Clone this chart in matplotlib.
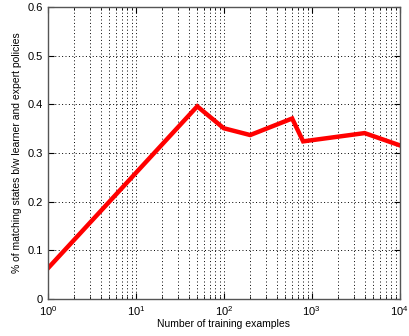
import matplotlib
matplotlib.use("Agg")
import matplotlib.pyplot as plt
from matplotlib.ticker import LogLocator, FixedLocator

plt.rcParams['font.family'] = ['Liberation Sans', 'DejaVu Sans']
plt.rcParams['mathtext.fontset'] = 'custom'
plt.rcParams['mathtext.rm'] = 'Liberation Sans'

# training set sizes vs matching fraction
numExamples = [1, 50, 100, 200, 600, 800, 4000, 10000]
matchFrac = [0.063, 0.396, 0.351, 0.337, 0.371, 0.324, 0.341, 0.316]

yTicks = [0, 0.1, 0.2, 0.3, 0.4, 0.5, 0.6]
yTickLabels = ["0", "0.1", "0.2", "0.3", "0.4", "0.5", "0.6"]

fig = plt.figure(figsize=(4.09, 3.36), dpi=100)
ax = fig.add_axes([0.117, 0.110, 0.860, 0.869])

ax.plot(numExamples, matchFrac, color="#ff0000", linewidth=3.2, solid_joinstyle="miter")

ax.set_xscale("log")
ax.set_xlim(1, 10000)
ax.set_ylim(0, 0.6)
ax.yaxis.set_major_locator(FixedLocator(yTicks))
ax.set_yticklabels(yTickLabels)
ax.xaxis.set_major_locator(LogLocator(base=10, numticks=10))
ax.xaxis.set_minor_locator(LogLocator(base=10, subs=range(2, 10), numticks=50))

# matlab style dotted grid
ax.grid(True, which="major", linestyle=(0, (1, 2.5)), color="black", linewidth=0.7)
ax.grid(True, which="minor", axis="x", linestyle=(0, (1, 2.5)), color="black", linewidth=0.7)

ax.tick_params(which="both", direction="in", labelsize=8, top=True, right=True)
ax.tick_params(which="major", length=4)
ax.tick_params(which="minor", length=2)
for s in ax.spines.values():
    s.set_color("#555555")
    s.set_linewidth(1.0)

ax.set_xlabel("Number of training examples", fontsize=7.5, labelpad=1)
ax.set_ylabel("% of matching states b/w learner and expert policies", fontsize=7.5, labelpad=4)

fig.savefig("out.png", dpi=100)
